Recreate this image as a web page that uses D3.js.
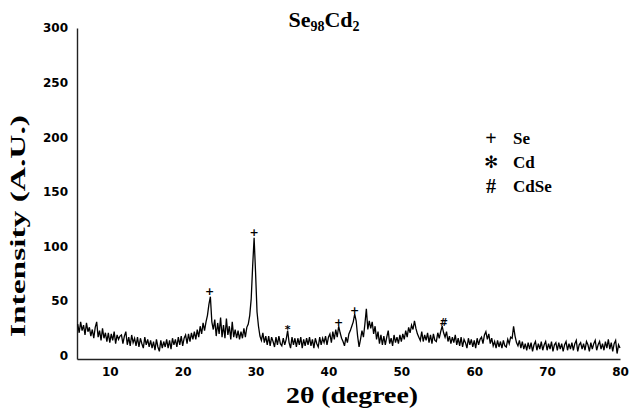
<!DOCTYPE html>
<html>
<head>
<meta charset="utf-8">
<script src="https://cdn.jsdelivr.net/npm/d3@7"></script>
<style>
  body { margin: 0; background: #fff; }
  svg { display: block; }
</style>
</head>
<body>
<div id="chart"></div>
<script>
  // 2θ grid of the scan: first angle and step (degrees)
  let thetaStart = 5.6, thetaStep = 0.2;

  // intensity, one row per 2 degrees
  let intensity = [
    29,21,31,23,28,19,30,22,26,18,   // 5.6
    24,16,26,31,17,23,14,25,16,21,   // 7.6
    13,21,12,20,14,22,11,19,15,18,   // 9.6
    19,11,18,22,10,17,9,19,12,16,    // 11.6
    9,17,8,16,11,7,17,10,15,8,       // 13.6
    14,7,13,5,15,8,4,14,7,13,        // 15.6
    8,15,7,14,6,16,10,15,8,17,       // 17.6
    10,18,9,16,19,11,20,13,21,15,    // 19.6
    22,15,24,17,27,20,30,23,31,37,   // 21.6
    47,54,31,24,33,18,30,20,35,17,   // 23.6
    28,16,34,19,27,15,31,17,24,16,   // 25.6
    23,15,22,16,25,17,26,29,37,52,   // 27.6
    82,108,76,40,27,18,14,21,12,18,  // 29.6
    10,18,9,17,13,8,17,10,18,11,     // 31.6
    9,16,10,15,23,12,7,17,10,16,     // 33.6
    8,16,10,17,7,15,9,16,10,17,      // 35.6
    9,15,7,16,11,8,17,10,16,12,      // 37.6
    18,10,17,20,12,22,15,24,17,27,   // 39.6
    21,16,13,9,17,12,20,23,27,31,    // 41.6
    38,32,18,8,15,23,17,29,43,24,    // 43.6
    32,25,31,20,27,15,22,11,19,10,   // 45.6
    18,10,17,23,11,16,9,19,12,17,    // 47.6
    11,19,13,20,15,23,17,26,21,28,   // 49.6
    24,32,25,20,17,14,22,13,19,14,   // 51.6
    21,12,19,11,20,14,13,21,16,22,   // 53.6
    27,21,17,22,13,18,11,17,12,19,   // 55.6
    10,16,9,17,8,15,12,7,16,10,      // 57.6
    15,8,14,7,16,10,15,17,11,19,     // 59.6
    22,15,20,11,16,9,13,7,14,8,      // 61.6
    13,7,14,9,8,15,11,17,16,27,      // 63.6
    18,12,9,14,7,13,6,11,5,12,       // 65.6
    6,12,4,10,13,5,11,6,13,5,        // 67.6
    10,13,5,11,6,13,4,10,12,5,       // 69.6
    12,6,11,4,10,13,5,11,6,12,       // 71.6
    5,11,14,4,10,12,6,11,5,13,       // 73.6
    10,4,12,6,11,14,5,10,13,6,       // 75.6
    11,5,13,7,15,6,12,4,11,14,       // 77.6
    2,10,7                           // 79.6
  ];

  // peak assignments: angle, height of the mark, symbol
  let peakTheta  = [23.7, 29.8, 34.4, 41.4, 43.6, 55.8];
  let peakLevel  = [59, 113, 24, 30, 41, 30];
  let peakSymbol = ['+', '+', '*', '+', '+', '#'];

  let legendSymbol = ['+', '✻', '#'];
  let legendLabel  = ['Se', 'Cd', 'CdSe'];

  let xTicks = [10, 20, 30, 40, 50, 60, 70, 80];
  let yTicks = [0, 50, 100, 150, 200, 250, 300];

  let width = 631, height = 412;
  let serif = '"Liberation Serif", "Times New Roman", serif';
  let sans = '"DejaVu Sans", Verdana, sans-serif';

  let svg = d3.select('#chart').append('svg')
              .attr('width', width).attr('height', height);

  let x = d3.scaleLinear().domain([5.5, 80]).range([77, 620]);
  let y = d3.scaleLinear().domain([-3, 300]).range([359, 28]);

  let points = intensity.map((v, i) => [thetaStart + thetaStep * i, v]);

  // axes
  let xAxis = svg.append('g').attr('transform', `translate(0,${y(-3)})`)
                 .call(d3.axisBottom(x).tickValues(xTicks).tickSize(0).tickPadding(8));
  let yAxis = svg.append('g').attr('transform', `translate(${x(5.5)},0)`)
                 .call(d3.axisLeft(y).tickValues(yTicks).tickSize(0).tickPadding(9));

  [xAxis, yAxis].forEach(a => {
    a.select('.domain').attr('stroke', '#222').attr('stroke-width', 1.4);
    a.selectAll('text').attr('font-family', sans).attr('font-weight', 'bold')
     .attr('font-size', 12).attr('fill', '#000');
  });

  // diffraction pattern
  let line = d3.line().x(d => x(d[0])).y(d => y(d[1]));
  svg.append('path').datum(points)
     .attr('d', line).attr('fill', 'none')
     .attr('stroke', '#000').attr('stroke-width', 1.3);

  // peak marks
  svg.selectAll('text.peak').data(peakTheta).enter().append('text')
     .classed('peak', true)
     .attr('x', d => x(d))
     .attr('y', (d, i) => y(peakLevel[i]))
     .attr('text-anchor', 'middle').attr('dominant-baseline', 'central')
     .attr('font-family', sans).attr('font-weight', 'bold')
     .attr('font-size', (d, i) => peakSymbol[i] == '#' ? 10 : 11)
     .attr('fill', '#000')
     .text((d, i) => peakSymbol[i]);

  // legend
  let legend = svg.append('g').attr('transform', 'translate(491,138)');
  let rows = legend.selectAll('g').data(legendLabel).enter().append('g')
                   .attr('transform', (d, i) => `translate(0,${i * 24})`);
  rows.append('text').attr('text-anchor', 'middle').attr('dominant-baseline', 'central')
      .attr('font-family', (d, i) => i == 1 ? '"DejaVu Sans", sans-serif' : serif)
      .attr('font-weight', 'bold').attr('font-size', (d, i) => i == 1 ? 17 : 20)
      .text((d, i) => legendSymbol[i]);
  rows.append('text').attr('x', 22).attr('dominant-baseline', 'central')
      .attr('font-family', serif).attr('font-weight', 'bold').attr('font-size', 17)
      .text(d => d);

  // title with subscripts
  let title = svg.append('text').attr('x', 324).attr('y', 27)
                 .attr('text-anchor', 'middle')
                 .attr('font-family', serif).attr('font-weight', 'bold').attr('font-size', 22);
  title.append('tspan').text('Se');
  title.append('tspan').attr('font-size', 14).attr('dy', 4).text('98');
  title.append('tspan').attr('dy', -4).text('Cd');
  title.append('tspan').attr('font-size', 14).attr('dy', 4).text('2');

  // axis titles
  svg.append('text').attr('x', 352).attr('y', 403).attr('text-anchor', 'middle')
     .attr('font-family', serif).attr('font-weight', 'bold').attr('font-size', 23)
     .attr('textLength', 132).attr('lengthAdjust', 'spacingAndGlyphs')
     .text('2θ (degree)');

  svg.append('text').attr('transform', 'translate(25,226) rotate(-90)')
     .attr('text-anchor', 'middle')
     .attr('font-family', serif).attr('font-weight', 'bold').attr('font-size', 21)
     .attr('textLength', 222).attr('lengthAdjust', 'spacingAndGlyphs')
     .text('Intensity (A.U.)');
</script>
</body>
</html>
